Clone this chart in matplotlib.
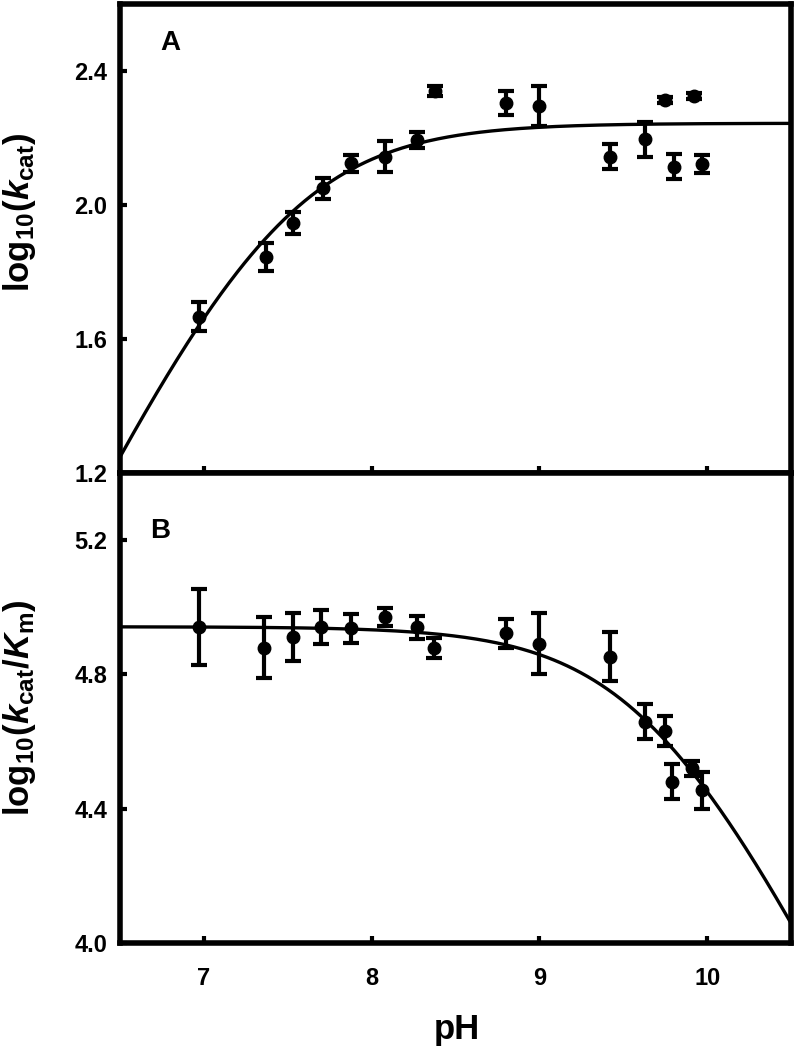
import numpy as np
import matplotlib
matplotlib.use("Agg")
import matplotlib.pyplot as plt

plt.rcParams['font.family'] = ['Liberation Sans', 'DejaVu Sans']
plt.rcParams['mathtext.fontset'] = 'custom'
plt.rcParams['mathtext.rm'] = 'Liberation Sans:bold'
plt.rcParams['mathtext.it'] = 'Liberation Sans:bold:italic'
plt.rcParams['mathtext.bf'] = 'Liberation Sans:bold'

# ---------------- data ----------------
ph_a = [6.97, 7.37, 7.53, 7.71, 7.88, 8.08, 8.27, 8.38, 8.80, 9.00,
        9.42, 9.63, 9.75, 9.80, 9.92, 9.97]
logkcat = [1.667, 1.846, 1.945, 2.050, 2.124, 2.144, 2.194, 2.341, 2.305, 2.296,
           2.144, 2.196, 2.313, 2.114, 2.325, 2.122]
err_a = [0.042, 0.042, 0.033, 0.032, 0.026, 0.046, 0.023, 0.015, 0.035, 0.060,
         0.037, 0.052, 0.010, 0.037, 0.010, 0.027]

ph_b = [6.97, 7.36, 7.53, 7.70, 7.88, 8.08, 8.27, 8.37, 8.80, 9.00,
        9.42, 9.63, 9.75, 9.79, 9.91, 9.97]
logkcatkm = [4.941, 4.880, 4.912, 4.941, 4.937, 4.971, 4.941, 4.880, 4.922, 4.892,
             4.852, 4.659, 4.632, 4.480, 4.520, 4.455]
err_b = [0.112, 0.091, 0.071, 0.051, 0.042, 0.028, 0.034, 0.030, 0.043, 0.092,
         0.073, 0.052, 0.044, 0.052, 0.023, 0.055]

# fit parameters (single-ionisation models)
fitA_plateau, fitA_pKa = 2.244, 7.45
fitB_plateau, fitB_pKb = 4.942, 9.678

xticks = [7, 8, 9, 10]
yticks_a = [1.2, 1.6, 2.0, 2.4]
yticks_b = [4.0, 4.4, 4.8, 5.2]

# ---------------- figure ----------------
W, H = 796, 1050
fig = plt.figure(figsize=(W / 100, H / 100), dpi=100)
L, R = 120 / W, 791 / W
axA = fig.add_axes([L, 1 - 473 / H, R - L, (473 - 4) / H])
axB = fig.add_axes([L, 1 - 943 / H, R - L, (943 - 473) / H])

ph_fit = np.linspace(6.5, 10.5, 400)
curveA = fitA_plateau - np.log10(1 + 10 ** (fitA_pKa - ph_fit))
curveB = fitB_plateau - np.log10(1 + 10 ** (ph_fit - fitB_pKb))

ebkw = dict(fmt='o', color='black', ms=9, elinewidth=3.0, capsize=5.5,
            capthick=3.0, zorder=3)

axA.plot(ph_fit, curveA, color='black', lw=2.4, zorder=2)
axA.errorbar(ph_a, logkcat, yerr=err_a, **ebkw)
axB.plot(ph_fit, curveB, color='black', lw=2.4, zorder=2)
axB.errorbar(ph_b, logkcatkm, yerr=err_b, **ebkw)

for ax, yt, ylim in ((axA, yticks_a, (1.2, 2.6)), (axB, yticks_b, (4.0, 5.4))):
    ax.set_xlim(6.5, 10.5)
    ax.set_ylim(*ylim)
    ax.set_xticks(xticks)
    ax.set_yticks(yt)
    ax.set_yticklabels([f"{v:.1f}" for v in yt])
    ax.tick_params(direction='in', length=5, width=3, labelsize=17,
                   top=False, right=False)
    ax.tick_params(axis='y', pad=9)
    ax.tick_params(axis='x', pad=17)
    for lab in ax.get_xticklabels() + ax.get_yticklabels():
        lab.set_fontweight('bold')
    for s in ax.spines.values():
        s.set_linewidth(4)
        s.set_color('black')

axA.tick_params(axis='x', labelbottom=False)

fig.text(160 / W, 1 - 43 / H, 'A', fontsize=20, fontweight='bold',
         ha='left', va='center')
fig.text(150 / W, 1 - 531 / H, 'B', fontsize=20, fontweight='bold',
         ha='left', va='center')

fig.text(20 / W, 1 - 212 / H, r'$\mathrm{log}_{\mathrm{10}}(\mathit{k}_{\mathrm{cat}})$',
         rotation=90, fontsize=25, ha='center', va='center')
fig.text(20 / W, 1 - 708 / H,
         r'$\mathrm{log}_{\mathrm{10}}(\mathit{k}_{\mathrm{cat}}/\mathit{K}_{\mathrm{m}})$',
         rotation=90, fontsize=25, ha='center', va='center')
fig.text(457 / W, 1 - 1029 / H, 'pH', fontsize=25, fontweight='bold',
         ha='center', va='center')

fig.savefig('out.png', dpi=100)
